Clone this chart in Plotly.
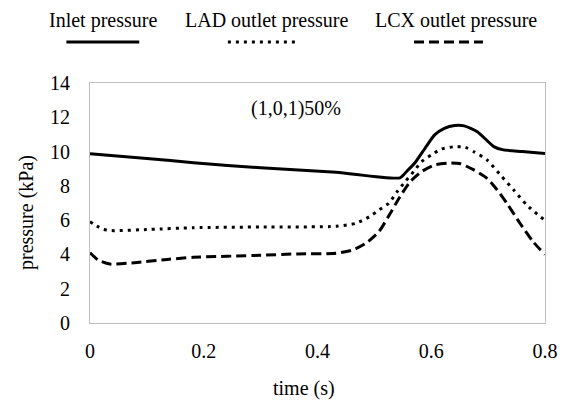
import plotly.graph_objects as go

# ---- data ----
inlet_t = [0, 0.1, 0.182, 0.3, 0.433, 0.545, 0.557, 0.571, 0.589, 0.606, 0.623, 0.641, 0.658, 0.681, 0.71, 0.727, 0.76, 0.8]
inlet_p = [9.88, 9.6, 9.35, 9.05, 8.8, 8.47, 8.85, 9.33, 10.19, 10.97, 11.35, 11.52, 11.5, 11.16, 10.29, 10.1, 10.0, 9.88]

lad_t = [0, 0.012, 0.023, 0.038, 0.107, 0.182, 0.3, 0.433, 0.468, 0.491, 0.508, 0.525, 0.54, 0.554, 0.569,
         0.583, 0.6, 0.618, 0.64, 0.66, 0.675, 0.698, 0.724, 0.745, 0.768, 0.8]
lad_p = [5.91, 5.66, 5.46, 5.39, 5.46, 5.56, 5.6, 5.64, 5.82, 6.2, 6.59, 6.98, 7.66, 8.24, 8.83,
         9.41, 9.8, 10.15, 10.28, 10.25, 9.99, 9.51, 8.54, 7.76, 6.88, 5.98]

lcx_t = [0, 0.014, 0.035, 0.078, 0.136, 0.182, 0.3, 0.364, 0.433, 0.462, 0.485, 0.508, 0.528, 0.545, 0.563,
         0.583, 0.606, 0.63, 0.65, 0.675, 0.698, 0.716, 0.733, 0.756, 0.779, 0.8]
lcx_p = [4.1, 3.68, 3.44, 3.52, 3.71, 3.83, 3.95, 4.03, 4.07, 4.26, 4.65, 5.33, 6.4, 7.37, 8.24,
         8.83, 9.22, 9.33, 9.3, 8.93, 8.44, 7.76, 6.98, 5.82, 4.74, 4.0]

series_names = ["Inlet pressure", "LAD outlet pressure", "LCX outlet pressure"]
x_ticks = [0, 0.2, 0.4, 0.6, 0.8]
x_tick_labels = ["0", "0.2", "0.4", "0.6", "0.8"]
y_ticks = [0, 2, 4, 6, 8, 10, 12, 14]
note_text = "(1,0,1)50%"
x_title = "time (s)"
y_title = "pressure (kPa)"

FONT = "Liberation Serif, Times New Roman, serif"
FS = 20
dashes = ["solid", "3px,5px", "10px,5px"]

W, H = 570, 403
ML, MR, MT, MB = 90, 18, 83, 80
PW, PH = W - ML - MR, H - MT - MB


def px_x(px):
    return (px - ML) / PW


def px_y(py):
    return (H - MB - py) / PH


fig = go.Figure()
for t, p, name, d in zip([inlet_t, lad_t, lcx_t], [inlet_p, lad_p, lcx_p], series_names, dashes):
    fig.add_trace(go.Scatter(x=t, y=p, mode="lines", name=name, showlegend=False,
                             line=dict(color="black", width=3, dash=d, shape="spline", smoothing=0.6)))

# custom legend: label above, line sample below
label_centers = [103, 269, 462]
sample_centers = [103, 266, 454]
sample_half = [37, 36, 35]
for lc, sc, hw, name, d in zip(label_centers, sample_centers, sample_half, series_names, dashes):
    fig.add_annotation(x=px_x(lc), y=px_y(20), xref="paper", yref="paper", text=name,
                       showarrow=False, xanchor="center", yanchor="middle",
                       font=dict(family=FONT, size=FS, color="black"))
    fig.add_shape(type="line", xref="paper", yref="paper",
                  x0=px_x(sc - hw), x1=px_x(sc + hw), y0=px_y(42), y1=px_y(42),
                  line=dict(color="black", width=3, dash=d))

fig.add_annotation(x=0.362, y=12.54, xref="x", yref="y", text=note_text, showarrow=False,
                   font=dict(family=FONT, size=FS, color="black"))

# axis titles placed as annotations
fig.add_annotation(x=px_x(307), y=px_y(388), xref="paper", yref="paper", text=x_title,
                   showarrow=False, xanchor="center", yanchor="middle",
                   font=dict(family=FONT, size=FS, color="black"))
fig.add_annotation(x=px_x(25), y=px_y(212), xref="paper", yref="paper", text=y_title,
                   showarrow=False, xanchor="center", yanchor="middle", textangle=-90,
                   font=dict(family=FONT, size=FS, color="black"))

fig.update_layout(
    width=W, height=H,
    margin=dict(l=ML, r=MR, t=MT, b=MB),
    paper_bgcolor="white", plot_bgcolor="white",
    font=dict(family=FONT, size=FS, color="black"),
    xaxis=dict(range=[0, 0.8], tickvals=x_ticks, ticktext=x_tick_labels, showgrid=False, zeroline=False,
               showline=True, mirror=True, linecolor="#BFBFBF", linewidth=1, ticks="",
               ticklabelstandoff=10, tickfont=dict(family=FONT, size=FS)),
    yaxis=dict(range=[0, 14], tickvals=y_ticks, showgrid=False, zeroline=False,
               showline=True, mirror=True, linecolor="#BFBFBF", linewidth=1, ticks="",
               ticklabelstandoff=15, tickfont=dict(family=FONT, size=FS)),
)

fig.write_html("out.html")
